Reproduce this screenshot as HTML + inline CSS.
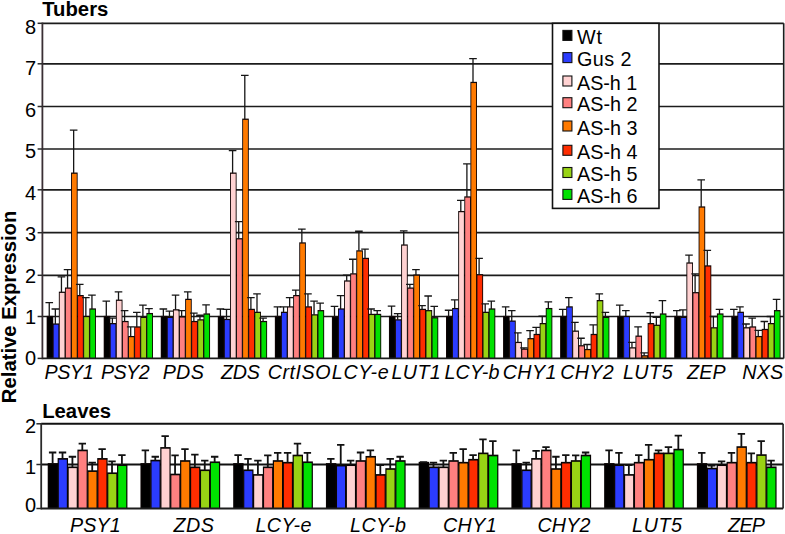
<!DOCTYPE html>
<html><head><meta charset="utf-8"><title>Tubers / Leaves relative expression</title>
<style>
html,body{margin:0;padding:0;background:#fff;}
body{width:785px;height:534px;overflow:hidden;}
svg{display:block;}
text{font-family:"Liberation Sans",sans-serif;fill:#000;}
.n{font-size:20px;}
.xl{font-size:19.7px;font-style:italic;}
.tt{font-size:20.3px;font-weight:bold;}
.lg{font-size:19.8px;}
.yt{font-size:20.25px;font-weight:bold;}
</style></head>
<body>
<svg width="785" height="534" viewBox="0 0 785 534">
<rect width="785" height="534" fill="#fff"/>
<line x1="42.4" y1="316.5" x2="783.7" y2="316.5" stroke="#1c1c1c" stroke-width="1.7"/>
<line x1="42.4" y1="275.3" x2="783.7" y2="275.3" stroke="#1c1c1c" stroke-width="1.7"/>
<line x1="42.4" y1="232.7" x2="783.7" y2="232.7" stroke="#1c1c1c" stroke-width="1.7"/>
<line x1="42.4" y1="189.8" x2="783.7" y2="189.8" stroke="#1c1c1c" stroke-width="1.7"/>
<line x1="42.4" y1="149" x2="783.7" y2="149" stroke="#1c1c1c" stroke-width="1.7"/>
<line x1="42.4" y1="106.5" x2="783.7" y2="106.5" stroke="#1c1c1c" stroke-width="1.7"/>
<line x1="42.4" y1="63.8" x2="783.7" y2="63.8" stroke="#1c1c1c" stroke-width="1.7"/>
<line x1="42.4" y1="23.3" x2="783.7" y2="23.3" stroke="#1c1c1c" stroke-width="1.7"/>
<line x1="783.7" y1="23.3" x2="783.7" y2="358.4" stroke="#1c1c1c" stroke-width="1.6"/>
<rect x="46.65" y="315.9" width="6.6" height="42.5" fill="#120606"/>
<rect x="47.55" y="317.15" width="4.8" height="41.25" fill="#000000"/>
<rect x="52.75" y="323.42" width="6.6" height="34.98" fill="#120606"/>
<rect x="53.65" y="324.67" width="4.8" height="33.73" fill="#2b3cff"/>
<rect x="58.85" y="291.66" width="6.6" height="66.74" fill="#120606"/>
<rect x="59.75" y="292.91" width="4.8" height="65.49" fill="#ffd2d2"/>
<rect x="64.95" y="287.48" width="6.6" height="70.92" fill="#120606"/>
<rect x="65.85" y="288.73" width="4.8" height="69.67" fill="#ff8080"/>
<rect x="71.05" y="172.53" width="6.6" height="185.87" fill="#120606"/>
<rect x="71.95" y="173.78" width="4.8" height="184.62" fill="#ff7a00"/>
<rect x="77.15" y="295" width="6.6" height="63.4" fill="#120606"/>
<rect x="78.05" y="296.25" width="4.8" height="62.15" fill="#ff2d00"/>
<rect x="83.25" y="315.9" width="6.6" height="42.5" fill="#120606"/>
<rect x="84.15" y="317.15" width="4.8" height="41.25" fill="#98d314"/>
<rect x="89.35" y="308.38" width="6.6" height="50.02" fill="#120606"/>
<rect x="90.25" y="309.63" width="4.8" height="48.77" fill="#00e100"/>
<rect x="103.7" y="315.9" width="6.6" height="42.5" fill="#120606"/>
<rect x="104.6" y="317.15" width="4.8" height="41.25" fill="#000000"/>
<rect x="109.8" y="323.01" width="6.6" height="35.39" fill="#120606"/>
<rect x="110.7" y="324.26" width="4.8" height="34.14" fill="#2b3cff"/>
<rect x="115.9" y="299.6" width="6.6" height="58.8" fill="#120606"/>
<rect x="116.8" y="300.85" width="4.8" height="57.55" fill="#ffd2d2"/>
<rect x="122" y="320.92" width="6.6" height="37.48" fill="#120606"/>
<rect x="122.9" y="322.17" width="4.8" height="36.23" fill="#ff8080"/>
<rect x="128.1" y="335.96" width="6.6" height="22.44" fill="#120606"/>
<rect x="129" y="337.21" width="4.8" height="21.19" fill="#ff7a00"/>
<rect x="134.2" y="326.35" width="6.6" height="32.05" fill="#120606"/>
<rect x="135.1" y="327.6" width="4.8" height="30.8" fill="#ff2d00"/>
<rect x="140.3" y="316.74" width="6.6" height="41.66" fill="#120606"/>
<rect x="141.2" y="317.99" width="4.8" height="40.41" fill="#98d314"/>
<rect x="146.4" y="312.97" width="6.6" height="45.43" fill="#120606"/>
<rect x="147.3" y="314.22" width="4.8" height="44.18" fill="#00e100"/>
<rect x="160.75" y="315.9" width="6.6" height="42.5" fill="#120606"/>
<rect x="161.65" y="317.15" width="4.8" height="41.25" fill="#000000"/>
<rect x="166.85" y="316.74" width="6.6" height="41.66" fill="#120606"/>
<rect x="167.75" y="317.99" width="4.8" height="40.41" fill="#2b3cff"/>
<rect x="172.95" y="309.21" width="6.6" height="49.19" fill="#120606"/>
<rect x="173.85" y="310.46" width="4.8" height="47.94" fill="#ffd2d2"/>
<rect x="179.05" y="316.32" width="6.6" height="42.08" fill="#120606"/>
<rect x="179.95" y="317.57" width="4.8" height="40.83" fill="#ff8080"/>
<rect x="185.15" y="298.76" width="6.6" height="59.64" fill="#120606"/>
<rect x="186.05" y="300.01" width="4.8" height="58.39" fill="#ff7a00"/>
<rect x="191.25" y="320.92" width="6.6" height="37.48" fill="#120606"/>
<rect x="192.15" y="322.17" width="4.8" height="36.23" fill="#ff2d00"/>
<rect x="197.35" y="319.24" width="6.6" height="39.16" fill="#120606"/>
<rect x="198.25" y="320.49" width="4.8" height="37.91" fill="#98d314"/>
<rect x="203.45" y="313.39" width="6.6" height="45.01" fill="#120606"/>
<rect x="204.35" y="314.64" width="4.8" height="43.76" fill="#00e100"/>
<rect x="217.8" y="315.9" width="6.6" height="42.5" fill="#120606"/>
<rect x="218.7" y="317.15" width="4.8" height="41.25" fill="#000000"/>
<rect x="223.9" y="318.83" width="6.6" height="39.57" fill="#120606"/>
<rect x="224.8" y="320.08" width="4.8" height="38.32" fill="#2b3cff"/>
<rect x="230" y="172.53" width="6.6" height="185.87" fill="#120606"/>
<rect x="230.9" y="173.78" width="4.8" height="184.62" fill="#ffd2d2"/>
<rect x="236.1" y="238.15" width="6.6" height="120.25" fill="#120606"/>
<rect x="237" y="239.4" width="4.8" height="119" fill="#ff8080"/>
<rect x="242.2" y="118.6" width="6.6" height="239.8" fill="#120606"/>
<rect x="243.1" y="119.85" width="4.8" height="238.55" fill="#ff7a00"/>
<rect x="248.3" y="308.79" width="6.6" height="49.61" fill="#120606"/>
<rect x="249.2" y="310.04" width="4.8" height="48.36" fill="#ff2d00"/>
<rect x="254.4" y="311.72" width="6.6" height="46.68" fill="#120606"/>
<rect x="255.3" y="312.97" width="4.8" height="45.43" fill="#98d314"/>
<rect x="260.5" y="320.92" width="6.6" height="37.48" fill="#120606"/>
<rect x="261.4" y="322.17" width="4.8" height="36.23" fill="#00e100"/>
<rect x="274.85" y="315.9" width="6.6" height="42.5" fill="#120606"/>
<rect x="275.75" y="317.15" width="4.8" height="41.25" fill="#000000"/>
<rect x="280.95" y="311.72" width="6.6" height="46.68" fill="#120606"/>
<rect x="281.85" y="312.97" width="4.8" height="45.43" fill="#2b3cff"/>
<rect x="287.05" y="306.29" width="6.6" height="52.11" fill="#120606"/>
<rect x="287.95" y="307.54" width="4.8" height="50.86" fill="#ffd2d2"/>
<rect x="293.15" y="295" width="6.6" height="63.4" fill="#120606"/>
<rect x="294.05" y="296.25" width="4.8" height="62.15" fill="#ff8080"/>
<rect x="299.25" y="242.33" width="6.6" height="116.07" fill="#120606"/>
<rect x="300.15" y="243.58" width="4.8" height="114.82" fill="#ff7a00"/>
<rect x="305.35" y="306.29" width="6.6" height="52.11" fill="#120606"/>
<rect x="306.25" y="307.54" width="4.8" height="50.86" fill="#ff2d00"/>
<rect x="311.45" y="314.23" width="6.6" height="44.17" fill="#120606"/>
<rect x="312.35" y="315.48" width="4.8" height="42.92" fill="#98d314"/>
<rect x="317.55" y="310.05" width="6.6" height="48.35" fill="#120606"/>
<rect x="318.45" y="311.3" width="4.8" height="47.1" fill="#00e100"/>
<rect x="331.9" y="316.32" width="6.6" height="42.08" fill="#120606"/>
<rect x="332.8" y="317.57" width="4.8" height="40.83" fill="#000000"/>
<rect x="338" y="308.38" width="6.6" height="50.02" fill="#120606"/>
<rect x="338.9" y="309.63" width="4.8" height="48.77" fill="#2b3cff"/>
<rect x="344.1" y="280.37" width="6.6" height="78.03" fill="#120606"/>
<rect x="345" y="281.62" width="4.8" height="76.78" fill="#ffd2d2"/>
<rect x="350.2" y="273.26" width="6.6" height="85.14" fill="#120606"/>
<rect x="351.1" y="274.51" width="4.8" height="83.89" fill="#ff8080"/>
<rect x="356.3" y="250.27" width="6.6" height="108.13" fill="#120606"/>
<rect x="357.2" y="251.52" width="4.8" height="106.88" fill="#ff7a00"/>
<rect x="362.4" y="257.8" width="6.6" height="100.6" fill="#120606"/>
<rect x="363.3" y="259.05" width="4.8" height="99.35" fill="#ff2d00"/>
<rect x="368.5" y="313.81" width="6.6" height="44.59" fill="#120606"/>
<rect x="369.4" y="315.06" width="4.8" height="43.34" fill="#98d314"/>
<rect x="374.6" y="313.81" width="6.6" height="44.59" fill="#120606"/>
<rect x="375.5" y="315.06" width="4.8" height="43.34" fill="#00e100"/>
<rect x="388.95" y="315.9" width="6.6" height="42.5" fill="#120606"/>
<rect x="389.85" y="317.15" width="4.8" height="41.25" fill="#000000"/>
<rect x="395.05" y="319.24" width="6.6" height="39.16" fill="#120606"/>
<rect x="395.95" y="320.49" width="4.8" height="37.91" fill="#2b3cff"/>
<rect x="401.15" y="244.42" width="6.6" height="113.98" fill="#120606"/>
<rect x="402.05" y="245.67" width="4.8" height="112.73" fill="#ffd2d2"/>
<rect x="407.25" y="287.48" width="6.6" height="70.92" fill="#120606"/>
<rect x="408.15" y="288.73" width="4.8" height="69.67" fill="#ff8080"/>
<rect x="413.35" y="274.52" width="6.6" height="83.88" fill="#120606"/>
<rect x="414.25" y="275.77" width="4.8" height="82.63" fill="#ff7a00"/>
<rect x="419.45" y="308.79" width="6.6" height="49.61" fill="#120606"/>
<rect x="420.35" y="310.04" width="4.8" height="48.36" fill="#ff2d00"/>
<rect x="425.55" y="310.05" width="6.6" height="48.35" fill="#120606"/>
<rect x="426.45" y="311.3" width="4.8" height="47.1" fill="#98d314"/>
<rect x="431.65" y="317.15" width="6.6" height="41.25" fill="#120606"/>
<rect x="432.55" y="318.4" width="4.8" height="40" fill="#00e100"/>
<rect x="446" y="315.9" width="6.6" height="42.5" fill="#120606"/>
<rect x="446.9" y="317.15" width="4.8" height="41.25" fill="#000000"/>
<rect x="452.1" y="307.96" width="6.6" height="50.44" fill="#120606"/>
<rect x="453" y="309.21" width="4.8" height="49.19" fill="#2b3cff"/>
<rect x="458.2" y="210.98" width="6.6" height="147.42" fill="#120606"/>
<rect x="459.1" y="212.23" width="4.8" height="146.17" fill="#ffd2d2"/>
<rect x="464.3" y="196.35" width="6.6" height="162.05" fill="#120606"/>
<rect x="465.2" y="197.6" width="4.8" height="160.8" fill="#ff8080"/>
<rect x="470.4" y="81.82" width="6.6" height="276.58" fill="#120606"/>
<rect x="471.3" y="83.07" width="4.8" height="275.33" fill="#ff7a00"/>
<rect x="476.5" y="274.1" width="6.6" height="84.3" fill="#120606"/>
<rect x="477.4" y="275.35" width="4.8" height="83.05" fill="#ff2d00"/>
<rect x="482.6" y="311.72" width="6.6" height="46.68" fill="#120606"/>
<rect x="483.5" y="312.97" width="4.8" height="45.43" fill="#98d314"/>
<rect x="488.7" y="308.38" width="6.6" height="50.02" fill="#120606"/>
<rect x="489.6" y="309.63" width="4.8" height="48.77" fill="#00e100"/>
<rect x="503.05" y="315.9" width="6.6" height="42.5" fill="#120606"/>
<rect x="503.95" y="317.15" width="4.8" height="41.25" fill="#000000"/>
<rect x="509.15" y="320.5" width="6.6" height="37.9" fill="#120606"/>
<rect x="510.05" y="321.75" width="4.8" height="36.65" fill="#2b3cff"/>
<rect x="515.25" y="341.82" width="6.6" height="16.58" fill="#120606"/>
<rect x="516.15" y="343.07" width="4.8" height="15.33" fill="#ffd2d2"/>
<rect x="521.35" y="348.5" width="6.6" height="9.9" fill="#120606"/>
<rect x="522.25" y="349.75" width="4.8" height="8.65" fill="#ff8080"/>
<rect x="527.45" y="338.05" width="6.6" height="20.35" fill="#120606"/>
<rect x="528.35" y="339.3" width="4.8" height="19.1" fill="#ff7a00"/>
<rect x="533.55" y="333.87" width="6.6" height="24.53" fill="#120606"/>
<rect x="534.45" y="335.12" width="4.8" height="23.28" fill="#ff2d00"/>
<rect x="539.65" y="323.01" width="6.6" height="35.39" fill="#120606"/>
<rect x="540.55" y="324.26" width="4.8" height="34.14" fill="#98d314"/>
<rect x="545.75" y="307.96" width="6.6" height="50.44" fill="#120606"/>
<rect x="546.65" y="309.21" width="4.8" height="49.19" fill="#00e100"/>
<rect x="560.1" y="315.9" width="6.6" height="42.5" fill="#120606"/>
<rect x="561" y="317.15" width="4.8" height="41.25" fill="#000000"/>
<rect x="566.2" y="306.29" width="6.6" height="52.11" fill="#120606"/>
<rect x="567.1" y="307.54" width="4.8" height="50.86" fill="#2b3cff"/>
<rect x="572.3" y="330.53" width="6.6" height="27.87" fill="#120606"/>
<rect x="573.2" y="331.78" width="4.8" height="26.62" fill="#ffd2d2"/>
<rect x="578.4" y="345.16" width="6.6" height="13.24" fill="#120606"/>
<rect x="579.3" y="346.41" width="4.8" height="11.99" fill="#ff8080"/>
<rect x="584.5" y="348.92" width="6.6" height="9.48" fill="#120606"/>
<rect x="585.4" y="350.17" width="4.8" height="8.23" fill="#ff7a00"/>
<rect x="590.6" y="333.87" width="6.6" height="24.53" fill="#120606"/>
<rect x="591.5" y="335.12" width="4.8" height="23.28" fill="#ff2d00"/>
<rect x="596.7" y="300.02" width="6.6" height="58.38" fill="#120606"/>
<rect x="597.6" y="301.27" width="4.8" height="57.13" fill="#98d314"/>
<rect x="602.8" y="316.74" width="6.6" height="41.66" fill="#120606"/>
<rect x="603.7" y="317.99" width="4.8" height="40.41" fill="#00e100"/>
<rect x="617.15" y="315.9" width="6.6" height="42.5" fill="#120606"/>
<rect x="618.05" y="317.15" width="4.8" height="41.25" fill="#000000"/>
<rect x="623.25" y="315.9" width="6.6" height="42.5" fill="#120606"/>
<rect x="624.15" y="317.15" width="4.8" height="41.25" fill="#2b3cff"/>
<rect x="629.35" y="347.25" width="6.6" height="11.15" fill="#120606"/>
<rect x="630.25" y="348.5" width="4.8" height="9.9" fill="#ffd2d2"/>
<rect x="635.45" y="335.55" width="6.6" height="22.85" fill="#120606"/>
<rect x="636.35" y="336.8" width="4.8" height="21.6" fill="#ff8080"/>
<rect x="641.55" y="355.19" width="6.6" height="3.21" fill="#120606"/>
<rect x="642.45" y="356.44" width="4.8" height="1.96" fill="#ff7a00"/>
<rect x="647.65" y="323.01" width="6.6" height="35.39" fill="#120606"/>
<rect x="648.55" y="324.26" width="4.8" height="34.14" fill="#ff2d00"/>
<rect x="653.75" y="324.68" width="6.6" height="33.72" fill="#120606"/>
<rect x="654.65" y="325.93" width="4.8" height="32.47" fill="#98d314"/>
<rect x="659.85" y="313.39" width="6.6" height="45.01" fill="#120606"/>
<rect x="660.75" y="314.64" width="4.8" height="43.76" fill="#00e100"/>
<rect x="674.2" y="315.9" width="6.6" height="42.5" fill="#120606"/>
<rect x="675.1" y="317.15" width="4.8" height="41.25" fill="#000000"/>
<rect x="680.3" y="316.74" width="6.6" height="41.66" fill="#120606"/>
<rect x="681.2" y="317.99" width="4.8" height="40.41" fill="#2b3cff"/>
<rect x="686.4" y="262.4" width="6.6" height="96" fill="#120606"/>
<rect x="687.3" y="263.65" width="4.8" height="94.75" fill="#ffd2d2"/>
<rect x="692.5" y="292.07" width="6.6" height="66.33" fill="#120606"/>
<rect x="693.4" y="293.32" width="4.8" height="65.08" fill="#ff8080"/>
<rect x="698.6" y="206.38" width="6.6" height="152.02" fill="#120606"/>
<rect x="699.5" y="207.63" width="4.8" height="150.77" fill="#ff7a00"/>
<rect x="704.7" y="265.32" width="6.6" height="93.08" fill="#120606"/>
<rect x="705.6" y="266.57" width="4.8" height="91.83" fill="#ff2d00"/>
<rect x="710.8" y="327.19" width="6.6" height="31.21" fill="#120606"/>
<rect x="711.7" y="328.44" width="4.8" height="29.96" fill="#98d314"/>
<rect x="716.9" y="313.39" width="6.6" height="45.01" fill="#120606"/>
<rect x="717.8" y="314.64" width="4.8" height="43.76" fill="#00e100"/>
<rect x="731.25" y="315.9" width="6.6" height="42.5" fill="#120606"/>
<rect x="732.15" y="317.15" width="4.8" height="41.25" fill="#000000"/>
<rect x="737.35" y="311.72" width="6.6" height="46.68" fill="#120606"/>
<rect x="738.25" y="312.97" width="4.8" height="45.43" fill="#2b3cff"/>
<rect x="743.45" y="327.19" width="6.6" height="31.21" fill="#120606"/>
<rect x="744.35" y="328.44" width="4.8" height="29.96" fill="#ffd2d2"/>
<rect x="749.55" y="326.35" width="6.6" height="32.05" fill="#120606"/>
<rect x="750.45" y="327.6" width="4.8" height="30.8" fill="#ff8080"/>
<rect x="755.65" y="335.96" width="6.6" height="22.44" fill="#120606"/>
<rect x="756.55" y="337.21" width="4.8" height="21.19" fill="#ff7a00"/>
<rect x="761.75" y="328.86" width="6.6" height="29.54" fill="#120606"/>
<rect x="762.65" y="330.11" width="4.8" height="28.29" fill="#ff2d00"/>
<rect x="767.85" y="323.01" width="6.6" height="35.39" fill="#120606"/>
<rect x="768.75" y="324.26" width="4.8" height="34.14" fill="#98d314"/>
<rect x="773.95" y="310.05" width="6.6" height="48.35" fill="#120606"/>
<rect x="774.85" y="311.3" width="4.8" height="47.1" fill="#00e100"/>
<g stroke="#161616" stroke-width="1.3" fill="none"><path d="M49.25 316.5V302.71M45.45 302.71H53.05"/><path d="M55.35 324.02V308.98M51.55 308.98H59.15"/><path d="M61.45 292.26V276.79M57.65 276.79H65.25"/><path d="M67.55 288.08V269.68M63.75 269.68H71.35"/><path d="M73.65 173.13V130.07M69.85 130.07H77.45"/><path d="M79.75 295.6V284.31M75.95 284.31H83.55"/><path d="M85.85 316.5V297.69M82.05 297.69H89.65"/><path d="M91.95 308.98V295.18M88.15 295.18H95.75"/><path d="M106.3 316.5V301.03M102.5 301.03H110.1"/><path d="M112.4 323.61V318.17M108.6 318.17H116.2"/><path d="M118.5 300.2V291.84M114.7 291.84H122.3"/><path d="M124.6 321.52V310.65M120.8 310.65H128.4"/><path d="M130.7 336.56V326.95M126.9 326.95H134.5"/><path d="M136.8 326.95V312.32M133 312.32H140.6"/><path d="M142.9 317.34V305.21M139.1 305.21H146.7"/><path d="M149 313.57V308.56M145.2 308.56H152.8"/><path d="M163.35 316.5V308.98M159.55 308.98H167.15"/><path d="M169.45 317.34V311.07M165.65 311.07H173.25"/><path d="M175.55 309.81V295.18M171.75 295.18H179.35"/><path d="M181.65 316.92V310.65M177.85 310.65H185.45"/><path d="M187.75 299.36V291.84M183.95 291.84H191.55"/><path d="M193.85 321.52V313.16M190.05 313.16H197.65"/><path d="M199.95 319.84V315.25M196.15 315.25H203.75"/><path d="M206.05 313.99V304.8M202.25 304.8H209.85"/><path d="M220.4 316.5V308.98M216.6 308.98H224.2"/><path d="M226.5 319.43V309.39M222.7 309.39H230.3"/><path d="M232.6 173.13V150.55M228.8 150.55H236.4"/><path d="M238.7 238.75V221.61M234.9 221.61H242.5"/><path d="M244.8 119.2V75.31M241 75.31H248.6"/><path d="M250.9 309.39V297.69M247.1 297.69H254.7"/><path d="M257 312.32V293.93M253.2 293.93H260.8"/><path d="M263.1 321.52V318.17M259.3 318.17H266.9"/><path d="M277.45 316.5V306.89M273.65 306.89H281.25"/><path d="M283.55 312.32V306.89M279.75 306.89H287.35"/><path d="M289.65 306.89V297.69M285.85 297.69H293.45"/><path d="M295.75 295.6V290.17M291.95 290.17H299.55"/><path d="M301.85 242.93V229.14M298.05 229.14H305.65"/><path d="M307.95 306.89V293.93M304.15 293.93H311.75"/><path d="M314.05 314.83V301.03M310.25 301.03H317.85"/><path d="M320.15 310.65V303.12M316.35 303.12H323.95"/><path d="M334.5 316.92V306.47M330.7 306.47H338.3"/><path d="M340.6 308.98V295.6M336.8 295.6H344.4"/><path d="M346.7 280.97V275.12M342.9 275.12H350.5"/><path d="M352.8 273.86V259.23M349 259.23H356.6"/><path d="M358.9 250.87V231.23M355.1 231.23H362.7"/><path d="M365 258.4V249.2M361.2 249.2H368.8"/><path d="M371.1 314.41V308.98M367.3 308.98H374.9"/><path d="M377.2 314.41V310.65M373.4 310.65H381"/><path d="M391.55 316.5V306.05M387.75 306.05H395.35"/><path d="M397.65 319.84V313.57M393.85 313.57H401.45"/><path d="M403.75 245.02V230.81M399.95 230.81H407.55"/><path d="M409.85 288.08V284.31M406.05 284.31H413.65"/><path d="M415.95 275.12V269.68M412.15 269.68H419.75"/><path d="M422.05 309.39V305.63M418.25 305.63H425.85"/><path d="M428.15 310.65V296.02M424.35 296.02H431.95"/><path d="M434.25 317.75V306.47M430.45 306.47H438.05"/><path d="M448.6 316.5V310.23M444.8 310.23H452.4"/><path d="M454.7 308.56V299.78M450.9 299.78H458.5"/><path d="M460.8 211.58V200.3M457 200.3H464.6"/><path d="M466.9 196.95V163.93M463.1 163.93H470.7"/><path d="M473 82.42V58.59M469.2 58.59H476.8"/><path d="M479.1 274.7V258.4M475.3 258.4H482.9"/><path d="M485.2 312.32V303.96M481.4 303.96H489"/><path d="M491.3 308.98V301.03M487.5 301.03H495.1"/><path d="M505.65 316.5V306.89M501.85 306.89H509.45"/><path d="M511.75 321.1V310.65M507.95 310.65H515.55"/><path d="M517.85 342.42V332.8M514.05 332.8H521.65"/><path d="M523.95 349.1V347.85M520.15 347.85H527.75"/><path d="M530.05 338.65V330.71M526.25 330.71H533.85"/><path d="M536.15 334.47V327.37M532.35 327.37H539.95"/><path d="M542.25 323.61V316.08M538.45 316.08H546.05"/><path d="M548.35 308.56V301.87M544.55 301.87H552.15"/><path d="M562.7 316.5V309.39M558.9 309.39H566.5"/><path d="M568.8 306.89V297.69M565 297.69H572.6"/><path d="M574.9 331.13V322.35M571.1 322.35H578.7"/><path d="M581 345.76V338.24M577.2 338.24H584.8"/><path d="M587.1 349.52V344.51M583.3 344.51H590.9"/><path d="M593.2 334.47V324.86M589.4 324.86H597"/><path d="M599.3 300.62V293.93M595.5 293.93H603.1"/><path d="M605.4 317.34V312.32M601.6 312.32H609.2"/><path d="M619.75 316.5V305.21M615.95 305.21H623.55"/><path d="M625.85 316.5V310.65M622.05 310.65H629.65"/><path d="M631.95 347.85V342.42M628.15 342.42H635.75"/><path d="M638.05 336.15V326.95M634.25 326.95H641.85"/><path d="M644.15 355.79V352.87M640.35 352.87H647.95"/><path d="M650.25 323.61V312.74M646.45 312.74H654.05"/><path d="M656.35 325.28V317.34M652.55 317.34H660.15"/><path d="M662.45 313.99V300.62M658.65 300.62H666.25"/><path d="M676.8 316.5V310.65M673 310.65H680.6"/><path d="M682.9 317.34V309.81M679.1 309.81H686.7"/><path d="M689 263V255.05M685.2 255.05H692.8"/><path d="M695.1 292.67V273.86M691.3 273.86H698.9"/><path d="M701.2 206.98V179.81M697.4 179.81H705"/><path d="M707.3 265.92V250.46M703.5 250.46H711.1"/><path d="M713.4 327.79V316.5M709.6 316.5H717.2"/><path d="M719.5 313.99V309.39M715.7 309.39H723.3"/><path d="M733.85 316.5V309.39M730.05 309.39H737.65"/><path d="M739.95 312.32V306.89M736.15 306.89H743.75"/><path d="M746.05 327.79V324.02M742.25 324.02H749.85"/><path d="M752.15 326.95V318.17M748.35 318.17H755.95"/><path d="M758.25 336.56V330.29M754.45 330.29H762.05"/><path d="M764.35 329.46V321.52M760.55 321.52H768.15"/><path d="M770.45 323.61V316.5M766.65 316.5H774.25"/><path d="M776.55 310.65V299.36M772.75 299.36H780.35"/></g>
<line x1="42.4" y1="22.5" x2="42.4" y2="359.3" stroke="#3a2f35" stroke-width="1.8"/>
<line x1="42.4" y1="358.4" x2="783.7" y2="358.4" stroke="#1c1c1c" stroke-width="1.8"/>
<line x1="37.6" y1="358.4" x2="42.4" y2="358.4" stroke="#2a2a2a" stroke-width="1.5"/>
<line x1="37.6" y1="316.5" x2="42.4" y2="316.5" stroke="#2a2a2a" stroke-width="1.5"/>
<line x1="37.6" y1="275.3" x2="42.4" y2="275.3" stroke="#2a2a2a" stroke-width="1.5"/>
<line x1="37.6" y1="232.7" x2="42.4" y2="232.7" stroke="#2a2a2a" stroke-width="1.5"/>
<line x1="37.6" y1="189.8" x2="42.4" y2="189.8" stroke="#2a2a2a" stroke-width="1.5"/>
<line x1="37.6" y1="149" x2="42.4" y2="149" stroke="#2a2a2a" stroke-width="1.5"/>
<line x1="37.6" y1="106.5" x2="42.4" y2="106.5" stroke="#2a2a2a" stroke-width="1.5"/>
<line x1="37.6" y1="63.8" x2="42.4" y2="63.8" stroke="#2a2a2a" stroke-width="1.5"/>
<line x1="37.6" y1="23.3" x2="42.4" y2="23.3" stroke="#2a2a2a" stroke-width="1.5"/>
<text x="36" y="365.45" text-anchor="end" class="n">0</text>
<text x="36" y="324.01" text-anchor="end" class="n">1</text>
<text x="36" y="282.57" text-anchor="end" class="n">2</text>
<text x="36" y="241.13" text-anchor="end" class="n">3</text>
<text x="36" y="199.69" text-anchor="end" class="n">4</text>
<text x="36" y="158.25" text-anchor="end" class="n">5</text>
<text x="36" y="116.81" text-anchor="end" class="n">6</text>
<text x="36" y="75.37" text-anchor="end" class="n">7</text>
<text x="36" y="33.93" text-anchor="end" class="n">8</text>
<text x="44.47" y="378.6" textLength="49.17" lengthAdjust="spacing" class="xl">PSY1</text>
<text x="100.89" y="378.6" textLength="48.74" lengthAdjust="spacing" class="xl">PSY2</text>
<text x="162.63" y="378.6" textLength="41.16" lengthAdjust="spacing" class="xl">PDS</text>
<text x="221.11" y="378.6" textLength="38.68" lengthAdjust="spacing" class="xl">ZDS</text>
<text x="267.73" y="378.6" textLength="62.85" lengthAdjust="spacing" class="xl">CrtISO</text>
<text x="331.84" y="378.6" textLength="56.74" lengthAdjust="spacing" class="xl">LCY-e</text>
<text x="391.47" y="378.6" textLength="49.28" lengthAdjust="spacing" class="xl">LUT1</text>
<text x="444.52" y="378.6" textLength="54.85" lengthAdjust="spacing" class="xl">LCY-b</text>
<text x="502.73" y="378.6" textLength="53.65" lengthAdjust="spacing" class="xl">CHY1</text>
<text x="560.15" y="378.6" textLength="53.59" lengthAdjust="spacing" class="xl">CHY2</text>
<text x="622.89" y="378.6" textLength="49.69" lengthAdjust="spacing" class="xl">LUT5</text>
<text x="686.95" y="378.6" textLength="38.63" lengthAdjust="spacing" class="xl">ZEP</text>
<text x="742.26" y="378.6" textLength="40.9" lengthAdjust="spacing" class="xl">NXS</text>
<text x="42.2" y="15.6" class="tt">Tubers</text>
<rect x="552.5" y="23.3" width="106.5" height="185.1" fill="#fff" stroke="#111" stroke-width="1.6"/>
<rect x="562.9" y="30.4" width="9" height="10" fill="#000000" stroke="#111" stroke-width="1.1"/>
<text x="577" y="44" class="lg" textLength="25" lengthAdjust="spacing">Wt</text>
<rect x="562.9" y="52.6" width="9" height="10" fill="#2b3cff" stroke="#111" stroke-width="1.1"/>
<text x="577" y="66.2" class="lg" textLength="54.6" lengthAdjust="spacing">Gus 2</text>
<rect x="562.9" y="76" width="9" height="10" fill="#ffd2d2" stroke="#111" stroke-width="1.1"/>
<text x="577" y="89.6" class="lg" textLength="60.3" lengthAdjust="spacing">AS-h 1</text>
<rect x="562.9" y="97.7" width="9" height="10" fill="#ff8080" stroke="#111" stroke-width="1.1"/>
<text x="577" y="111.3" class="lg" textLength="60.5" lengthAdjust="spacing">AS-h 2</text>
<rect x="562.9" y="121" width="9" height="10" fill="#ff7a00" stroke="#111" stroke-width="1.1"/>
<text x="577" y="134.6" class="lg" textLength="60.5" lengthAdjust="spacing">AS-h 3</text>
<rect x="562.9" y="145.3" width="9" height="10" fill="#ff2d00" stroke="#111" stroke-width="1.1"/>
<text x="577" y="158.9" class="lg" textLength="60.5" lengthAdjust="spacing">AS-h 4</text>
<rect x="562.9" y="167.5" width="9" height="10" fill="#98d314" stroke="#111" stroke-width="1.1"/>
<text x="577" y="181.1" class="lg" textLength="60.5" lengthAdjust="spacing">AS-h 5</text>
<rect x="562.9" y="189.4" width="9" height="10" fill="#00e100" stroke="#111" stroke-width="1.1"/>
<text x="577" y="203" class="lg" textLength="60.5" lengthAdjust="spacing">AS-h 6</text>
<text transform="translate(15.6,306.9) rotate(-90)" text-anchor="middle" class="yt">Relative Expression</text>
<line x1="41.2" y1="464.5" x2="783.1" y2="464.5" stroke="#111" stroke-width="1.9"/>
<line x1="41.2" y1="423.8" x2="783.1" y2="423.8" stroke="#111" stroke-width="1.9"/>
<line x1="783.1" y1="423.8" x2="783.1" y2="508.5" stroke="#1c1c1c" stroke-width="1.6"/>
<rect x="47.72" y="463.11" width="10.4" height="45.39" fill="#080303"/>
<rect x="48.92" y="464.76" width="8" height="43.74" fill="#000000"/>
<rect x="57.62" y="458.05" width="10.4" height="50.45" fill="#080303"/>
<rect x="58.82" y="459.7" width="8" height="48.8" fill="#2b3cff"/>
<rect x="67.52" y="466.49" width="10.4" height="42.01" fill="#080303"/>
<rect x="68.72" y="468.14" width="8" height="40.36" fill="#ffd2d2"/>
<rect x="77.42" y="449.61" width="10.4" height="58.89" fill="#080303"/>
<rect x="78.62" y="451.26" width="8" height="57.24" fill="#ff8080"/>
<rect x="87.32" y="470.29" width="10.4" height="38.21" fill="#080303"/>
<rect x="88.52" y="471.94" width="8" height="36.56" fill="#ff7a00"/>
<rect x="97.22" y="458.05" width="10.4" height="50.45" fill="#080303"/>
<rect x="98.42" y="459.7" width="8" height="48.8" fill="#ff2d00"/>
<rect x="107.12" y="472.4" width="10.4" height="36.1" fill="#080303"/>
<rect x="108.32" y="474.05" width="8" height="34.45" fill="#98d314"/>
<rect x="117.02" y="464.38" width="10.4" height="44.12" fill="#080303"/>
<rect x="118.22" y="466.03" width="8" height="42.47" fill="#00e100"/>
<rect x="140.46" y="463.11" width="10.4" height="45.39" fill="#080303"/>
<rect x="141.66" y="464.76" width="8" height="43.74" fill="#000000"/>
<rect x="150.36" y="459.74" width="10.4" height="48.76" fill="#080303"/>
<rect x="151.56" y="461.39" width="8" height="47.11" fill="#2b3cff"/>
<rect x="160.26" y="447.08" width="10.4" height="61.42" fill="#080303"/>
<rect x="161.46" y="448.73" width="8" height="59.77" fill="#ffd2d2"/>
<rect x="170.16" y="473.66" width="10.4" height="34.84" fill="#080303"/>
<rect x="171.36" y="475.31" width="8" height="33.19" fill="#ff8080"/>
<rect x="180.06" y="460.16" width="10.4" height="48.34" fill="#080303"/>
<rect x="181.26" y="461.81" width="8" height="46.69" fill="#ff7a00"/>
<rect x="189.96" y="466.49" width="10.4" height="42.01" fill="#080303"/>
<rect x="191.16" y="468.14" width="8" height="40.36" fill="#ff2d00"/>
<rect x="199.86" y="469.44" width="10.4" height="39.06" fill="#080303"/>
<rect x="201.06" y="471.09" width="8" height="37.41" fill="#98d314"/>
<rect x="209.76" y="461.42" width="10.4" height="47.08" fill="#080303"/>
<rect x="210.96" y="463.07" width="8" height="45.43" fill="#00e100"/>
<rect x="233.19" y="463.11" width="10.4" height="45.39" fill="#080303"/>
<rect x="234.39" y="464.76" width="8" height="43.74" fill="#000000"/>
<rect x="243.09" y="469.44" width="10.4" height="39.06" fill="#080303"/>
<rect x="244.29" y="471.09" width="8" height="37.41" fill="#2b3cff"/>
<rect x="252.99" y="474.08" width="10.4" height="34.42" fill="#080303"/>
<rect x="254.19" y="475.73" width="8" height="32.77" fill="#ffd2d2"/>
<rect x="262.89" y="466.49" width="10.4" height="42.01" fill="#080303"/>
<rect x="264.09" y="468.14" width="8" height="40.36" fill="#ff8080"/>
<rect x="272.79" y="460.16" width="10.4" height="48.34" fill="#080303"/>
<rect x="273.99" y="461.81" width="8" height="46.69" fill="#ff7a00"/>
<rect x="282.69" y="461.85" width="10.4" height="46.65" fill="#080303"/>
<rect x="283.89" y="463.5" width="8" height="45" fill="#ff2d00"/>
<rect x="292.59" y="454.67" width="10.4" height="53.83" fill="#080303"/>
<rect x="293.79" y="456.32" width="8" height="52.18" fill="#98d314"/>
<rect x="302.49" y="461.42" width="10.4" height="47.08" fill="#080303"/>
<rect x="303.69" y="463.07" width="8" height="45.43" fill="#00e100"/>
<rect x="325.93" y="463.11" width="10.4" height="45.39" fill="#080303"/>
<rect x="327.13" y="464.76" width="8" height="43.74" fill="#000000"/>
<rect x="335.83" y="464.8" width="10.4" height="43.7" fill="#080303"/>
<rect x="337.03" y="466.45" width="8" height="42.05" fill="#2b3cff"/>
<rect x="345.73" y="464.38" width="10.4" height="44.12" fill="#080303"/>
<rect x="346.93" y="466.03" width="8" height="42.47" fill="#ffd2d2"/>
<rect x="355.63" y="460.16" width="10.4" height="48.34" fill="#080303"/>
<rect x="356.83" y="461.81" width="8" height="46.69" fill="#ff8080"/>
<rect x="365.53" y="455.94" width="10.4" height="52.56" fill="#080303"/>
<rect x="366.73" y="457.59" width="8" height="50.91" fill="#ff7a00"/>
<rect x="375.43" y="474.08" width="10.4" height="34.42" fill="#080303"/>
<rect x="376.63" y="475.73" width="8" height="32.77" fill="#ff2d00"/>
<rect x="385.33" y="468.18" width="10.4" height="40.32" fill="#080303"/>
<rect x="386.53" y="469.83" width="8" height="38.67" fill="#98d314"/>
<rect x="395.23" y="460.16" width="10.4" height="48.34" fill="#080303"/>
<rect x="396.43" y="461.81" width="8" height="46.69" fill="#00e100"/>
<rect x="418.67" y="461.85" width="10.4" height="46.65" fill="#080303"/>
<rect x="419.87" y="463.5" width="8" height="45" fill="#000000"/>
<rect x="428.57" y="466.49" width="10.4" height="42.01" fill="#080303"/>
<rect x="429.77" y="468.14" width="8" height="40.36" fill="#2b3cff"/>
<rect x="438.47" y="466.49" width="10.4" height="42.01" fill="#080303"/>
<rect x="439.67" y="468.14" width="8" height="40.36" fill="#ffd2d2"/>
<rect x="448.37" y="460.16" width="10.4" height="48.34" fill="#080303"/>
<rect x="449.57" y="461.81" width="8" height="46.69" fill="#ff8080"/>
<rect x="458.27" y="461.85" width="10.4" height="46.65" fill="#080303"/>
<rect x="459.47" y="463.5" width="8" height="45" fill="#ff7a00"/>
<rect x="468.17" y="458.89" width="10.4" height="49.61" fill="#080303"/>
<rect x="469.37" y="460.54" width="8" height="47.96" fill="#ff2d00"/>
<rect x="478.07" y="452.56" width="10.4" height="55.94" fill="#080303"/>
<rect x="479.27" y="454.21" width="8" height="54.29" fill="#98d314"/>
<rect x="487.97" y="454.67" width="10.4" height="53.83" fill="#080303"/>
<rect x="489.17" y="456.32" width="8" height="52.18" fill="#00e100"/>
<rect x="511.41" y="463.11" width="10.4" height="45.39" fill="#080303"/>
<rect x="512.61" y="464.76" width="8" height="43.74" fill="#000000"/>
<rect x="521.31" y="469.44" width="10.4" height="39.06" fill="#080303"/>
<rect x="522.51" y="471.09" width="8" height="37.41" fill="#2b3cff"/>
<rect x="531.21" y="458.05" width="10.4" height="50.45" fill="#080303"/>
<rect x="532.41" y="459.7" width="8" height="48.8" fill="#ffd2d2"/>
<rect x="541.11" y="449.61" width="10.4" height="58.89" fill="#080303"/>
<rect x="542.31" y="451.26" width="8" height="57.24" fill="#ff8080"/>
<rect x="551.01" y="468.18" width="10.4" height="40.32" fill="#080303"/>
<rect x="552.21" y="469.83" width="8" height="38.67" fill="#ff7a00"/>
<rect x="560.91" y="461.85" width="10.4" height="46.65" fill="#080303"/>
<rect x="562.11" y="463.5" width="8" height="45" fill="#ff2d00"/>
<rect x="570.81" y="460.16" width="10.4" height="48.34" fill="#080303"/>
<rect x="572.01" y="461.81" width="8" height="46.69" fill="#98d314"/>
<rect x="580.71" y="454.67" width="10.4" height="53.83" fill="#080303"/>
<rect x="581.91" y="456.32" width="8" height="52.18" fill="#00e100"/>
<rect x="604.14" y="463.11" width="10.4" height="45.39" fill="#080303"/>
<rect x="605.34" y="464.76" width="8" height="43.74" fill="#000000"/>
<rect x="614.04" y="464.38" width="10.4" height="44.12" fill="#080303"/>
<rect x="615.24" y="466.03" width="8" height="42.47" fill="#2b3cff"/>
<rect x="623.94" y="474.08" width="10.4" height="34.42" fill="#080303"/>
<rect x="625.14" y="475.73" width="8" height="32.77" fill="#ffd2d2"/>
<rect x="633.84" y="461.85" width="10.4" height="46.65" fill="#080303"/>
<rect x="635.04" y="463.5" width="8" height="45" fill="#ff8080"/>
<rect x="643.74" y="458.89" width="10.4" height="49.61" fill="#080303"/>
<rect x="644.94" y="460.54" width="8" height="47.96" fill="#ff7a00"/>
<rect x="653.64" y="452.56" width="10.4" height="55.94" fill="#080303"/>
<rect x="654.84" y="454.21" width="8" height="54.29" fill="#ff2d00"/>
<rect x="663.54" y="452.56" width="10.4" height="55.94" fill="#080303"/>
<rect x="664.74" y="454.21" width="8" height="54.29" fill="#98d314"/>
<rect x="673.44" y="448.76" width="10.4" height="59.74" fill="#080303"/>
<rect x="674.64" y="450.41" width="8" height="58.09" fill="#00e100"/>
<rect x="696.88" y="463.11" width="10.4" height="45.39" fill="#080303"/>
<rect x="698.08" y="464.76" width="8" height="43.74" fill="#000000"/>
<rect x="706.78" y="467.75" width="10.4" height="40.75" fill="#080303"/>
<rect x="707.98" y="469.4" width="8" height="39.1" fill="#2b3cff"/>
<rect x="716.68" y="464.38" width="10.4" height="44.12" fill="#080303"/>
<rect x="717.88" y="466.03" width="8" height="42.47" fill="#ffd2d2"/>
<rect x="726.58" y="461.85" width="10.4" height="46.65" fill="#080303"/>
<rect x="727.78" y="463.5" width="8" height="45" fill="#ff8080"/>
<rect x="736.48" y="446.23" width="10.4" height="62.27" fill="#080303"/>
<rect x="737.68" y="447.88" width="8" height="60.62" fill="#ff7a00"/>
<rect x="746.38" y="461.85" width="10.4" height="46.65" fill="#080303"/>
<rect x="747.58" y="463.5" width="8" height="45" fill="#ff2d00"/>
<rect x="756.28" y="454.25" width="10.4" height="54.25" fill="#080303"/>
<rect x="757.48" y="455.9" width="8" height="52.6" fill="#98d314"/>
<rect x="766.18" y="466.49" width="10.4" height="42.01" fill="#080303"/>
<rect x="767.38" y="468.14" width="8" height="40.36" fill="#00e100"/>
<g stroke="#111" stroke-width="1.8" fill="none"><path d="M52.62 463.91V452.52M48.92 452.52H56.32"/><path d="M62.52 458.85V452.52M58.82 452.52H66.22"/><path d="M72.42 467.29V456.74M68.72 456.74H76.12"/><path d="M82.32 450.41V443.66M78.62 443.66H86.02"/><path d="M92.22 471.09V462.65M88.52 462.65H95.92"/><path d="M102.12 458.85V449.14M98.42 449.14H105.82"/><path d="M112.02 473.2V461.38M108.32 461.38H115.72"/><path d="M121.92 465.18V455.05M118.22 455.05H125.62"/><path d="M145.36 463.91V450.41M141.66 450.41H149.06"/><path d="M155.26 460.54V456.74M151.56 456.74H158.96"/><path d="M165.16 447.88V436.06M161.46 436.06H168.86"/><path d="M175.06 474.46V455.47M171.36 455.47H178.76"/><path d="M184.96 460.96V449.14M181.26 449.14H188.66"/><path d="M194.86 467.29V454.63M191.16 454.63H198.56"/><path d="M204.76 470.24V460.54M201.06 460.54H208.46"/><path d="M214.66 462.22V456.74M210.96 456.74H218.36"/><path d="M238.09 463.91V455.05M234.39 455.05H241.79"/><path d="M247.99 470.24V458.85M244.29 458.85H251.69"/><path d="M257.89 474.88V460.54M254.19 460.54H261.59"/><path d="M267.79 467.29V455.47M264.09 455.47H271.49"/><path d="M277.69 460.96V452.94M273.99 452.94H281.39"/><path d="M287.59 462.65V452.94M283.89 452.94H291.29"/><path d="M297.49 455.47V443.66M293.79 443.66H301.19"/><path d="M307.39 462.22V452.94M303.69 452.94H311.09"/><path d="M330.83 463.91V458.85M327.13 458.85H334.53"/><path d="M340.73 465.6V444.92M337.03 444.92H344.43"/><path d="M350.63 465.18V460.54M346.93 460.54H354.33"/><path d="M360.53 460.96V452.52M356.83 452.52H364.23"/><path d="M370.43 456.74V450.41M366.73 450.41H374.13"/><path d="M380.33 474.88V465.18M376.63 465.18H384.03"/><path d="M390.23 468.98V458.85M386.53 458.85H393.93"/><path d="M400.13 460.96V456.74M396.43 456.74H403.83"/><path d="M423.57 462.65V462.22M419.87 462.22H427.27"/><path d="M433.47 467.29V462.65M429.77 462.65H437.17"/><path d="M443.37 467.29V460.54M439.67 460.54H447.07"/><path d="M453.27 460.96V452.94M449.57 452.94H456.97"/><path d="M463.17 462.65V449.14M459.47 449.14H466.87"/><path d="M473.07 459.69V455.05M469.37 455.05H476.77"/><path d="M482.97 453.36V439.44M479.27 439.44H486.67"/><path d="M492.87 455.47V441.12M489.17 441.12H496.57"/><path d="M516.31 463.91V450.41M512.61 450.41H520.01"/><path d="M526.21 470.24V462.65M522.51 462.65H529.91"/><path d="M536.11 458.85V450.83M532.41 450.83H539.81"/><path d="M546.01 450.41V447.03M542.31 447.03H549.71"/><path d="M555.91 468.98V456.74M552.21 456.74H559.61"/><path d="M565.81 462.65V455.05M562.11 455.05H569.51"/><path d="M575.71 460.96V455.47M572.01 455.47H579.41"/><path d="M585.61 455.47V452.52M581.91 452.52H589.31"/><path d="M609.04 463.91V450.41M605.34 450.41H612.74"/><path d="M618.94 465.18V452.94M615.24 452.94H622.64"/><path d="M628.84 474.88V465.18M625.14 465.18H632.54"/><path d="M638.74 462.65V455.05M635.04 455.05H642.44"/><path d="M648.64 459.69V444.92M644.94 444.92H652.34"/><path d="M658.54 453.36V450.41M654.84 450.41H662.24"/><path d="M668.44 453.36V447.03M664.74 447.03H672.14"/><path d="M678.34 449.56V435.64M674.64 435.64H682.04"/><path d="M701.78 463.91V452.94M698.08 452.94H705.48"/><path d="M711.68 468.55V465.6M707.98 465.6H715.38"/><path d="M721.58 465.18V461.38M717.88 461.38H725.28"/><path d="M731.48 462.65V452.94M727.78 452.94H735.18"/><path d="M741.38 447.03V433.95M737.68 433.95H745.08"/><path d="M751.28 462.65V453.36M747.58 453.36H754.98"/><path d="M761.18 455.05V441.12M757.48 441.12H764.88"/><path d="M771.08 467.29V460.54M767.38 460.54H774.78"/></g>
<line x1="41.2" y1="423" x2="41.2" y2="509.4" stroke="#2a2a2a" stroke-width="1.8"/>
<line x1="41.2" y1="508.5" x2="783.1" y2="508.5" stroke="#1c1c1c" stroke-width="1.8"/>
<line x1="36.4" y1="508.5" x2="41.2" y2="508.5" stroke="#2a2a2a" stroke-width="1.5"/>
<line x1="36.4" y1="464.5" x2="41.2" y2="464.5" stroke="#2a2a2a" stroke-width="1.5"/>
<line x1="36.4" y1="423.8" x2="41.2" y2="423.8" stroke="#2a2a2a" stroke-width="1.5"/>
<text x="36" y="511.75" text-anchor="end" class="n">0</text>
<text x="36" y="473.85" text-anchor="end" class="n">1</text>
<text x="36" y="432.95" text-anchor="end" class="n">2</text>
<text x="69.89" y="532.3" textLength="50.86" lengthAdjust="spacing" class="xl">PSY1</text>
<text x="173.53" y="532.3" textLength="40.42" lengthAdjust="spacing" class="xl">ZDS</text>
<text x="255.47" y="532.3" textLength="55.9" lengthAdjust="spacing" class="xl">LCY-e</text>
<text x="350.1" y="532.3" textLength="55.85" lengthAdjust="spacing" class="xl">LCY-b</text>
<text x="442.94" y="532.3" textLength="53.86" lengthAdjust="spacing" class="xl">CHY1</text>
<text x="537.52" y="532.3" textLength="52.9" lengthAdjust="spacing" class="xl">CHY2</text>
<text x="632.1" y="532.3" textLength="49.95" lengthAdjust="spacing" class="xl">LUT5</text>
<text x="728.11" y="532.3" textLength="36.89" lengthAdjust="spacing" class="xl">ZEP</text>
<text x="42.2" y="417.5" class="tt">Leaves</text>
</svg>
</body></html>
